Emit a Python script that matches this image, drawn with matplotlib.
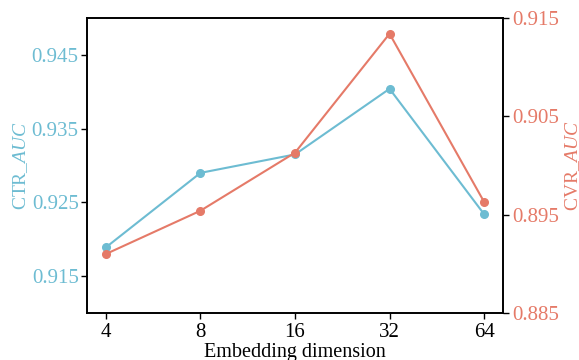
import numpy as np
import matplotlib
matplotlib.use("Agg")
import matplotlib.pyplot as plt

# data
dims = ["4", "8", "16", "32", "64"]
ctr_auc = [0.9189, 0.9290, 0.9315, 0.9404, 0.9234]
cvr_auc = [0.8910, 0.8954, 0.9013, 0.9134, 0.8963]
ctr_ticks = [0.915, 0.925, 0.935, 0.945]
cvr_ticks = [0.885, 0.895, 0.905, 0.915]

blue = "#6dbcd2"
red = "#e57a68"

plt.rcParams["font.family"] = ["Liberation Serif", "DejaVu Serif"]
plt.rcParams["mathtext.fontset"] = "custom"
plt.rcParams["mathtext.rm"] = "Liberation Serif"
plt.rcParams["mathtext.it"] = "Liberation Serif:italic"

fig = plt.figure(figsize=(5.79, 3.60), dpi=100)
ax = fig.add_axes([87 / 579, 1 - 313 / 360, 416 / 579, 295 / 360])
ax2 = ax.twinx()

x = np.arange(len(dims))
ax.plot(x, ctr_auc, color=blue, marker="o", markersize=5.5, linewidth=1.5)
ax2.plot(x, cvr_auc, color=red, marker="o", markersize=5.5, linewidth=1.5)

ax.set_xlim(-0.2, 4.2)
ax.set_ylim(0.910, 0.950)
ax2.set_ylim(0.885, 0.915)
ax.set_xticks(x)
ax.set_xticklabels(dims)
ax.set_yticks(ctr_ticks)
ax2.set_yticks(cvr_ticks)
ax.set_yticklabels([f"{v:.3f}" for v in ctr_ticks])
ax2.set_yticklabels([f"{v:.3f}" for v in cvr_ticks])

for a in (ax, ax2):
    for s in a.spines.values():
        s.set_linewidth(1.2)
    a.tick_params(direction="out", length=4, width=1.0, labelsize=15, pad=3)
ax.tick_params(axis="y", labelcolor=blue, pad=2)
ax2.tick_params(axis="y", labelcolor=red)

ax.set_xlabel("Embedding dimension", fontsize=14.5, labelpad=1)
ax.set_ylabel("CTR_$AUC$", color=blue, fontsize=14, labelpad=1)
ax2.set_ylabel("CVR_$AUC$", color=red, fontsize=14, labelpad=3)

fig.savefig("out.png", dpi=100)
